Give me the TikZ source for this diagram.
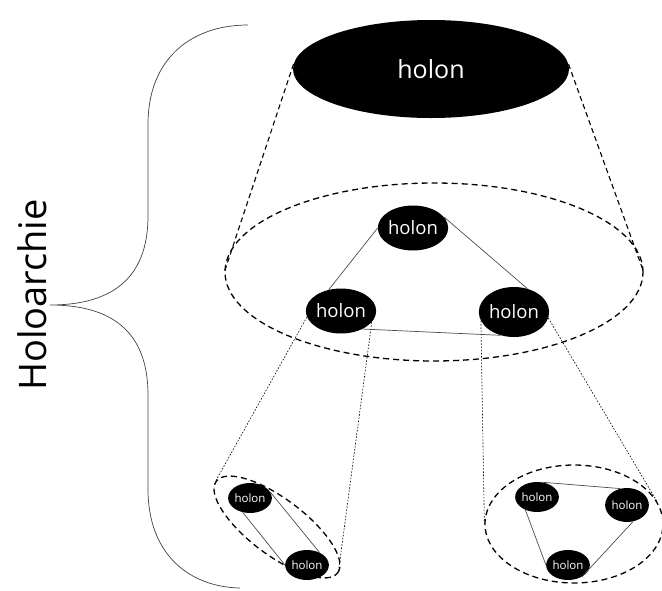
\documentclass[tikz,border=0pt]{standalone}
\usepackage{fontspec}
\setmainfont{Open Sans}
\usetikzlibrary{shapes.geometric}
\tikzset{
  holon/.style={ellipse, fill=black, text=white, inner sep=0pt},
  holbig/.style={holon, minimum width=276pt, minimum height=98pt, font=\fontsize{25}{30}\selectfont},
  holmid/.style={holon, font=\fontsize{18.5}{22}\selectfont},
  holsmall/.style={holon, minimum width=31pt, minimum height=30pt, font=\fontsize{11.5}{13}\selectfont},
  grp/.style={ellipse, draw, line width=1.3pt, dash pattern=on 6pt off 4pt, inner sep=0pt},
  proj/.style={dash pattern=on 5pt off 3.5pt, line width=1.1pt},
  link/.style={draw=black!70, line width=0.7pt},
  zoomln/.style={dash pattern=on 1.6pt off 1.6pt, line width=0.6pt},
  brace/.style={draw=black!75, line width=0.7pt}
}

\begin{document}
\begin{tikzpicture}[x=1pt, y=-1pt]
  \useasboundingbox (0,0) rectangle (662,590);

  % top level
  \node[holbig] (top) at (431,69) {holon};
  \node[grp, minimum width=418pt, minimum height=178pt] (gmid) at (434,272) {};

  % middle level
  \node[holmid, minimum width=60pt, minimum height=45pt] (mt) at (413,228) {holon};
  \node[holmid, minimum width=62pt, minimum height=45pt] (ml) at (341,311) {holon};
  \node[holmid, minimum width=58pt, minimum height=50pt] (mr) at (514,312) {holon};

  % bottom level
  \node[grp, minimum width=152pt, minimum height=56pt, rotate=-37] (gl) at (277,527) {};
  \node[holsmall] (bl1) at (250,498) {holon};
  \node[holsmall] (bl2) at (307,565) {holon};

  \node[grp, minimum width=178pt, minimum height=118pt] (gr) at (574,524) {};
  \node[holsmall] (br1) at (537,497) {holon};
  \node[holsmall, minimum height=34pt] (br2) at (627,505) {holon};
  \node[holsmall] (br3) at (568,565) {holon};

  % projections
  \draw[proj] (top.178) -- (gmid.west);
  \draw[proj] (top.2) -- (gmid.east);
  \draw[zoomln] (ml.190) -- (gl.west);
  \draw[zoomln] (ml.340) -- (gl.east);
  \draw[zoomln] (mr.195) -- (gr.west);
  \draw[zoomln] (mr.350) -- (gr.15);

  % links
  \draw[link] (mt.180) -- (ml.120);
  \draw[link] (mt.20) -- (mr.60);
  \draw[link] (ml.-40) -- (mr.-120);
  \draw[link] (bl1.16) -- (bl2.45);
  \draw[link] (bl1.243) -- (bl2.180);
  \draw[link] (br1.70) -- (br2.112);
  \draw[link] (br1.228) -- (br3.180);
  \draw[link] (br2.-70) -- (br3.-40);

  % brace
  \coordinate (tip) at (50,305);
  \draw[brace] (248,25) .. controls (190,25) and (148,60) .. (148,124) -- (148,216)
    .. controls (148,280) and (110,305) .. (tip)
    .. controls (110,305) and (148,330) .. (148,395) -- (148,489)
    .. controls (148,555) and (190,587) .. (240,588);
  \node[rotate=90, font=\fontsize{38}{44}\selectfont] (label) at (32,295) {Holoarchie};
\end{tikzpicture}
\end{document}
